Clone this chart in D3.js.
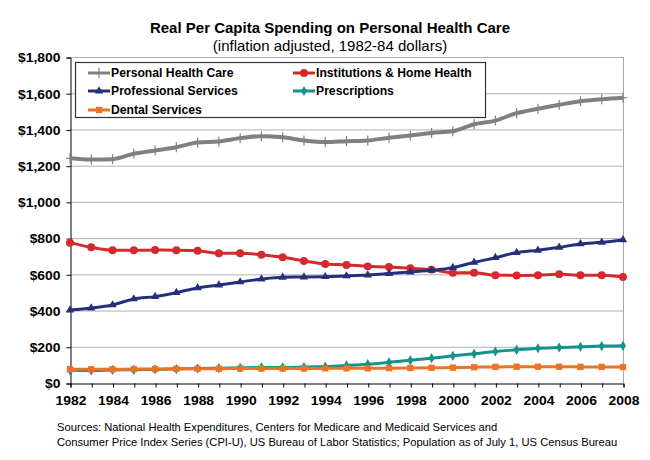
<!DOCTYPE html>
<html><head><meta charset="utf-8">
<script src="https://cdn.jsdelivr.net/npm/d3@7"></script>
<style>body{margin:0;background:#fff}svg{display:block;font-family:"Liberation Sans",Arial,sans-serif}</style>
</head><body><svg id="c" width="650" height="460"></svg>
<script>
const years = d3.range(1982, 2009);
const personalHealthCare = [1241,1234,1236,1266,1284,1302,1328,1334,1352,1363,1357,1339,1330,1335,1339,1354,1367,1381,1390,1429,1449,1490,1514,1536,1556,1567,1575];
const institutions = [775,749,733,733,734,733,730,716,716,708,694,674,657,652,644,641,633,626,609,609,595,594,595,600,595,595,585];
const professional = [403,414,431,464,477,499,525,541,558,574,584,585,587,591,596,604,613,622,637,666,692,720,733,749,768,777,790];
const prescriptions = [70,69,72,73,75,77,80,82,84,86,86,88,91,97,104,114,125,137,150,161,174,183,192,196,200,204,205];
const dental = [76,76,76,77,77,78,79,79,80,80,80,80,81,81,81,82,83,84,85,87,89,90,90,90,89,89,88];
const yTicks = [0,200,400,600,800,1000,1200,1400,1600,1800];
const xTickLabels = d3.range(1982, 2009, 2);

const series = [
  {name:"Personal Health Care", values:personalHealthCare, color:"#808080", marker:"plus"},
  {name:"Institutions & Home Health", values:institutions, color:"#d42a2e", marker:"circle"},
  {name:"Professional Services", values:professional, color:"#25307c", marker:"triangle"},
  {name:"Prescriptions", values:prescriptions, color:"#13938b", marker:"diamond"},
  {name:"Dental Services", values:dental, color:"#ec7326", marker:"square"}
];

const svg = d3.select("#c");
const L=70, R=623, T=57, B=383;
const x = d3.scaleLinear().domain([1982,2008]).range([L,R]);
const y = d3.scaleLinear().domain([0,1800]).range([B,T]);

svg.append("text").attr("x",330).attr("y",33).attr("text-anchor","middle")
  .attr("font-weight","bold").attr("font-size","15px").text("Real Per Capita Spending on Personal Health Care");
svg.append("text").attr("x",330).attr("y",51).attr("text-anchor","middle")
  .attr("font-size","15px").text("(inflation adjusted, 1982-84 dollars)");

// gridlines
svg.append("g").selectAll("line").data(yTicks.filter(d=>d>0)).join("line")
  .attr("x1",L).attr("x2",R).attr("y1",d=>y(d)+0.5).attr("y2",d=>y(d)+0.5)
  .attr("stroke","#b0b0b0").attr("stroke-width",1);
svg.append("line").attr("x1",R+0.5).attr("x2",R+0.5).attr("y1",T).attr("y2",B).attr("stroke","#a8a8a8");

function stretch(sel, k){
  sel.each(function(){
    const len = this.getComputedTextLength();
    if(len>0){ d3.select(this).attr("textLength", len*k).attr("lengthAdjust","spacingAndGlyphs"); }
  });
}

// axes
const yAxis = d3.axisLeft(y).tickValues(yTicks).tickSize(4).tickFormat(d=>"$"+d3.format(",")(d));
const gy = svg.append("g").attr("transform",`translate(${L+0.5},0.5)`).call(yAxis);
gy.select(".domain").attr("stroke","#000");
gy.selectAll("text").attr("font-size","12.5px").attr("font-weight","bold").attr("font-family","Liberation Sans, Arial, sans-serif").attr("fill","#000").attr("dx","-3").attr("dy","0.35em");
stretch(gy.selectAll("text"), 1.11);

const xAxis = d3.axisBottom(x).tickValues(years).tickSize(4).tickFormat(d=>xTickLabels.includes(d)?d:"");
const gx = svg.append("g").attr("transform",`translate(0.5,${B+0.5})`).call(xAxis);
gx.select(".domain").attr("stroke","#000");
gx.selectAll("text").attr("font-size","12.5px").attr("font-weight","bold").attr("font-family","Liberation Sans, Arial, sans-serif").attr("fill","#000").attr("dy","1.15em");
stretch(gx.selectAll("text"), 1.11);

function drawMarker(g, type, color, cx, cy){
  if(type==="plus"){
    g.append("line").attr("x1",cx).attr("x2",cx).attr("y1",cy-5).attr("y2",cy+5).attr("stroke",color).attr("stroke-width",1.2);
    g.append("line").attr("x1",cx-4).attr("x2",cx+4).attr("y1",cy).attr("y2",cy).attr("stroke",color).attr("stroke-width",1.2);
  } else {
    const sym = {circle:d3.symbolCircle, triangle:d3.symbolTriangle, diamond:d3.symbolDiamond, square:d3.symbolSquare}[type];
    const size = {circle:50, triangle:30, diamond:30, square:40}[type];
    g.append("path").attr("d",d3.symbol().type(sym).size(size)()).attr("transform",`translate(${cx},${cy})`).attr("fill",color);
  }
}

const line = d3.line().x((d,i)=>x(years[i])).y(d=>y(d)).curve(d3.curveMonotoneX);
series.forEach(s=>{
  const g = svg.append("g");
  g.append("path").datum(s.values).attr("d",line).attr("fill","none").attr("stroke",s.color).attr("stroke-width",s.marker==="plus"?4:3);
  s.values.forEach((v,i)=>drawMarker(g,s.marker,s.color,x(years[i]),y(v)));
});

// legend
const lg = svg.append("g");
lg.append("rect").attr("x",75.5).attr("y",62.5).attr("width",410).attr("height",55).attr("fill","#fff").attr("stroke","#333").attr("stroke-width",1.2);
const pos = [[88,73],[293,73],[88,91],[293,91],[88,110]];
series.forEach((s,k)=>{
  const [lx,ly] = pos[k];
  lg.append("line").attr("x1",lx).attr("x2",lx+22).attr("y1",ly).attr("y2",ly).attr("stroke",s.color).attr("stroke-width",3);
  drawMarker(lg,s.marker,s.color,lx+11,ly);
  lg.append("text").attr("x",lx+23).attr("y",ly).attr("dy","0.36em").attr("font-size","12.2px").attr("font-weight","bold").text(s.name);
});

// sources
svg.append("text").attr("x",57).attr("y",431).attr("font-size","11.2px").text("Sources: National Health Expenditures, Centers for Medicare and Medicaid Services and");
svg.append("text").attr("x",57).attr("y",446).attr("font-size","11.2px").text("Consumer Price Index Series (CPI-U), US Bureau of Labor Statistics; Population as of July 1, US Census Bureau");
</script></body></html>
